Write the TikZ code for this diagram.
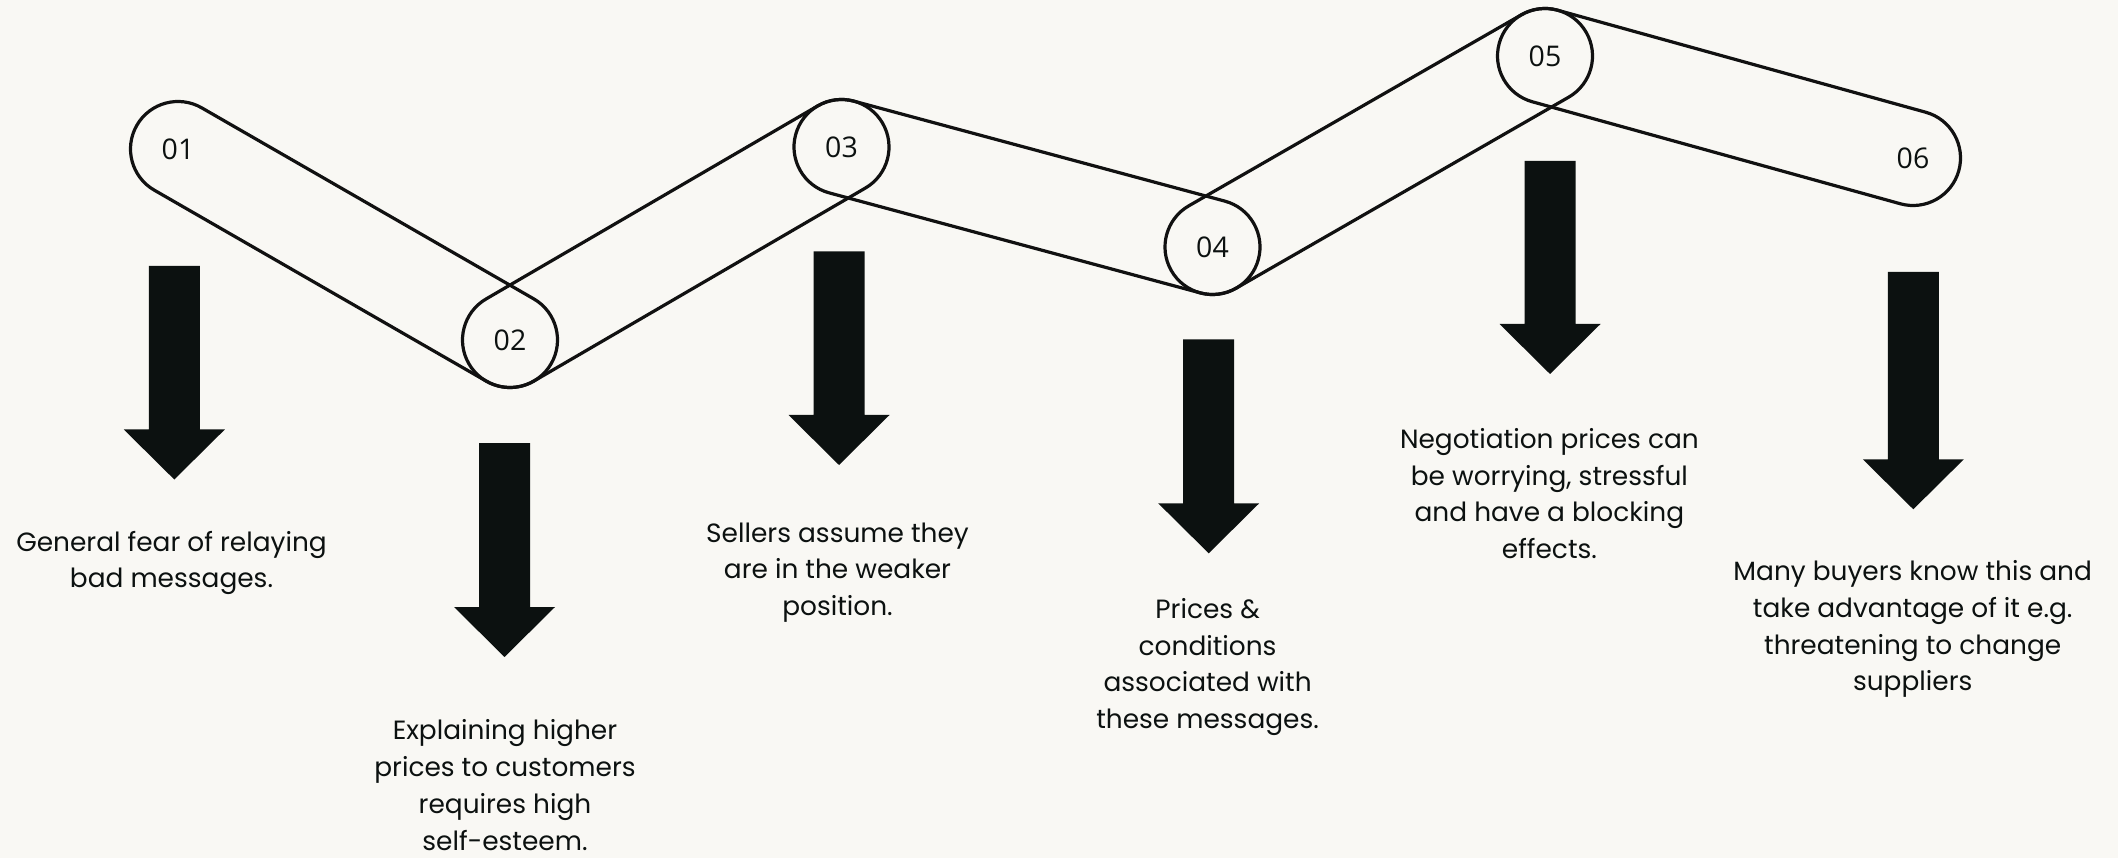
\documentclass[tikz,border=0pt]{standalone}
\usepackage{fontspec}
\setmainfont{Poppins}
\newfontfamily\numfont{Open Sans}
\usetikzlibrary{calc}
\definecolor{paper}{HTML}{F9F8F4}
\definecolor{ink}{HTML}{0C1110}
\definecolor{outline}{HTML}{111111}
\newcommand\caprad{47.5pt}
% stadium outline joining two step markers
\newcommand\capsule[2]{%
  \draw[capsule line] let \p1=($(#2)-(#1)$), \n1={atan2(\y1,\x1)} in
    ($(#1)+({\n1+90}:\caprad)$) arc[start angle={\n1+90}, delta angle=180, radius=\caprad]
    -- ($(#2)+({\n1-90}:\caprad)$) arc[start angle={\n1-90}, delta angle=180, radius=\caprad]
    -- cycle;}
% solid downward block arrow: centre x, top y, shaft length
\newcommand\blockarrow[3]{%
  \fill[block arrow] (#1-25.5,-#2) -- (#1+25.5,-#2) -- (#1+25.5,-#2-#3)
    -- (#1+50.5,-#2-#3) -- (#1,-#2-#3-50) -- (#1-50.5,-#2-#3)
    -- (#1-25.5,-#2-#3) -- cycle;}
\begin{document}
\begin{tikzpicture}[x=1pt,y=1pt,
  capsule line/.style={draw=outline, line width=3.2pt, line join=round},
  block arrow/.style={fill=ink},
  stepnum/.style={font=\numfont\fontsize{28.5pt}{30pt}\selectfont, text=ink, inner sep=0pt},
  caption/.style={font=\fontsize{26.4pt}{36.8pt}\selectfont, text=ink, align=center, inner sep=0pt}]
\fill[paper] (0,0) rectangle (2118,-858);
\useasboundingbox (0,0) rectangle (2118,-858);

% step markers
\node[stepnum] (n1) at (178,-149) {01};
\node[stepnum] (n2) at (510,-340) {02};
\node[stepnum] (n3) at (841.5,-147) {03};
\node[stepnum] (n4) at (1212.5,-247) {04};
\node[stepnum] (n5) at (1545,-56) {05};
\node[stepnum] (n6) at (1913,-158) {06};

% zig-zag chain of capsules
\capsule{n1}{n2}
\capsule{n2}{n3}
\capsule{n3}{n4}
\capsule{n4}{n5}
\capsule{n5}{n6}

% arrows
\blockarrow{174.3}{266}{163.5}
\blockarrow{504.5}{443}{164}
\blockarrow{839}{251.5}{163.5}
\blockarrow{1208.7}{339.3}{164}
\blockarrow{1550}{161}{163}
\blockarrow{1913.3}{272}{187.3}

% captions
\node[caption] (t1) at (171.5,-563) {General fear of relaying\\bad messages.};
\node[caption] (t2) at (505,-785) {Explaining higher\\prices to customers\\requires high\\self-esteem.};
\node[caption] (t3) at (837.5,-572.5) {Sellers assume they\\are in the weaker\\position.};
\node[caption] (t4) at (1207.6,-667) {Prices \&\\conditions\\associated with\\these messages.};
\node[caption] (t5) at (1549.4,-493.5) {Negotiation prices can\\be worrying, stressful\\and have a blocking\\effects.};
\node[caption] (t6) at (1912.7,-629) {Many buyers know this and\\take advantage of it e.g.\\threatening to change\\suppliers};
\end{tikzpicture}
\end{document}
